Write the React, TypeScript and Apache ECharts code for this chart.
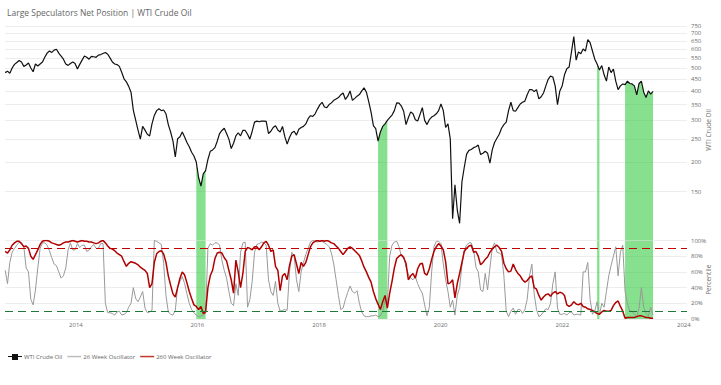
import React, { useEffect, useRef } from 'react';
import * as echarts from 'echarts';

// Weekly grid, one value every two weeks, starting 2012-11-02
const START_DATE = '2012-11-02';
const STEP_DAYS = 14;

const wtiCrudeOil = [
  478, 485, 475, 500, 518, 528, 538, 530, 508, 515,
  525, 500, 482, 520, 510, 520, 530, 555, 578, 590,
  582, 595, 600, 578, 562, 545, 520, 513, 522, 530,
  522, 495, 518, 540, 562, 555, 545, 560, 558, 555,
  567, 570, 576, 582, 572, 552, 530, 520, 517, 508,
  480, 450, 437, 418, 395, 331, 301, 273, 250, 283,
  273, 262, 258, 290, 315, 330, 336, 330, 332, 320,
  288, 268, 245, 210, 251, 256, 268, 255, 242, 232,
  220, 212, 200, 172, 158, 178, 184, 205, 222, 225,
  230, 245, 264, 272, 278, 264, 250, 228, 240, 258,
  266, 258, 272, 272, 262, 250, 270, 295, 298, 296,
  298, 298, 297, 264, 270, 280, 285, 273, 268, 283,
  256, 238, 254, 266, 270, 260, 275, 280, 283, 290,
  305, 314, 312, 320, 335, 349, 358, 342, 340, 350,
  356, 365, 370, 375, 385, 392, 368, 380, 400, 365,
  372, 380, 386, 400, 412, 395, 360, 325, 285, 277,
  245, 268, 283, 290, 300, 308, 316, 330, 356, 355,
  345, 328, 288, 308, 326, 320, 302, 298, 318, 340,
  300, 288, 302, 310, 314, 320, 330, 352, 330, 280,
  290, 250, 115, 160, 125, 110, 165, 190, 216, 224,
  226, 230, 232, 236, 215, 218, 222, 218, 198, 225,
  242, 252, 262, 278, 288, 295, 330, 358, 330, 328,
  340, 352, 358, 362, 385, 405, 405, 398, 405, 370,
  378, 392, 420, 448, 462, 458, 420, 350, 400, 420,
  468, 496, 505, 585, 680, 540, 585, 575, 602, 590,
  660, 640, 590, 545, 520, 490, 512, 468, 440, 505,
  478, 495, 440, 405, 420, 428, 425, 440, 430, 428,
  420, 385, 430, 440, 395, 375, 400, 388, 398,
];

const osc26Week = [
  62, 45, 72, 85, 90, 94, 98, 97, 92, 65,
  60, 25, 18, 37, 65, 90, 97, 97, 94, 87,
  78, 70, 68, 60, 52, 55, 65, 88, 97, 88,
  88, 96, 91, 94, 94, 86, 88, 92, 95, 90,
  90, 96, 96, 20, 8, 8, 7, 5, 9, 10,
  5, 6, 8, 15, 20, 40, 26, 22, 28, 35,
  14, 8, 9, 11, 100, 99, 97, 95, 71, 30,
  9, 6, 5, 11, 40, 48, 54, 45, 32, 20,
  12, 8, 5, 3, 4, 5, 7, 90, 96, 94,
  97, 97, 94, 75, 62, 52, 35, 20, 17, 45,
  30, 85, 97, 98, 15, 25, 48, 85, 95, 96,
  98, 97, 94, 50, 35, 30, 48, 20, 10, 11,
  12, 11, 60, 85, 80, 50, 35, 60, 72, 82,
  90, 98, 100, 99, 98, 99, 99, 97, 95, 92,
  84, 70, 50, 30, 12, 14, 25, 34, 42, 35,
  33, 36, 20, 9, 4, 3, 3, 4, 4, 5,
  3, 4, 10, 25, 20, 80, 94, 98, 99, 92,
  80, 80, 66, 57, 52, 50, 54, 45, 38, 33,
  18, 4, 15, 60, 92, 99, 99, 96, 70, 50,
  35, 15, 24, 5, 30, 40, 68, 88, 94, 97,
  97, 88, 66, 60, 37, 35, 58, 37, 65, 90,
  97, 85, 84, 82, 55, 10, 3, 10, 14, 6,
  12, 12, 7, 12, 25, 55, 70, 32, 12, 3,
  5, 9, 13, 12, 20, 45, 60, 14, 6, 6,
  7, 5, 8, 9, 5, 6, 6, 5, 60, 60,
  72, 25, 6, 10, 22, 5, 20, 15, 35, 55,
  68, 80, 92, 55, 85, 94, 35, 20, 10, 10,
  6, 3, 14, 40, 15, 7, 4, 15, 5,
];

const osc260Week = [
  86, 84, 88, 94, 97, 99, 99, 96, 92, 93,
  90, 80, 76, 82, 88, 95, 99, 100, 100, 99,
  97, 96, 95, 94, 95, 97, 98, 98, 99, 100,
  99, 98, 99, 100, 99, 99, 98, 98, 97, 96,
  97, 99, 100, 97, 93, 90, 89, 87, 84, 82,
  80, 73, 67, 71, 73, 72, 71, 69, 66, 64,
  62, 58, 40, 45, 72, 83, 86, 87, 83, 72,
  55, 43, 32, 28, 40, 52, 60, 56, 46, 35,
  26, 18, 16, 12, 16, 7, 9, 40, 55, 62,
  77, 84, 85, 84, 78, 74, 62, 50, 33, 75,
  60, 40, 58, 86, 91, 90, 88, 92, 92, 88,
  92, 97, 99, 94, 86, 88, 67, 62, 36, 55,
  58, 50, 68, 80, 82, 70, 58, 72, 67, 72,
  82, 92, 97, 99, 100, 99, 100, 99, 100, 99,
  97, 96, 93, 90, 86, 82, 86, 90, 92, 90,
  87, 84, 81, 74, 66, 60, 53, 47, 35, 26,
  19, 12, 22, 30, 14, 33, 48, 65, 77, 80,
  82, 78, 71, 50, 55, 58, 52, 64, 70, 71,
  58, 56, 64, 76, 86, 92, 96, 93, 88, 73,
  45, 46, 50, 27, 45, 58, 72, 86, 90, 93,
  94, 85, 86, 80, 69, 72, 76, 79, 85, 89,
  92, 94, 91, 86, 71, 64, 60, 61, 70, 63,
  58, 55, 50, 47, 49, 53, 55, 40, 38, 30,
  24, 28, 31, 32, 29, 33, 35, 32, 34, 33,
  30, 18, 16, 18, 22, 19, 18, 20, 16, 15,
  13, 12, 11, 9, 7, 6, 9, 11, 10, 10,
  11, 17, 21, 23, 16, 10, 1, 2, 2, 2,
  2, 3, 4, 4, 3, 2, 2, 1, 1,
];

// Periods where the 260 week oscillator sits in the extreme zone
const extremeBands: [string, string][] = [
  ['2015-12-25', '2016-02-19'],
  ['2018-12-21', '2019-02-15'],
  ['2022-07-29', '2022-08-12'],
  ['2023-01-13', '2023-06-30'],
];

const priceTicks = [150, 200, 250, 300, 350, 400, 450, 500, 550, 600, 650, 700, 750];
const yearTicks = [2014, 2016, 2018, 2020, 2022, 2024];
const upperThreshold = 90;
const lowerThreshold = 10;

const X_MIN = '2012-11-01';
const X_MAX = '2024-01-20';

const GREEN = 'rgba(35,199,50,0.55)';
const FONT = 'Open Sans';

const LINE_ICON = 'path://M0,0 M14,7 M0,2.8 H14 V4.3 H0 Z';
const PRICE_ICON = 'path://M0,0 M14,7 M0,3 H4 V4 H0 Z M4,1 H10 V7 H4 Z M10,3 H14 V4 H10 Z';

export default function App() {
  const ref = useRef<HTMLDivElement>(null);

  useEffect(() => {
    if (!ref.current) return;
    const chart = echarts.init(ref.current, undefined, { renderer: 'svg' });

    const t0 = Date.parse(START_DATE);
    const dates = wtiCrudeOil.map((_, i) => t0 + i * STEP_DAYS * 86400000);
    const bands = extremeBands.map(([a, b]) => [Date.parse(a), Date.parse(b)]);
    const inBand = (t: number) => bands.some(([a, b]) => t >= a && t <= b);

    const priceData = dates.map((t, i) => [t, wtiCrudeOil[i]]);
    const bandData = dates.map((t, i) => [t, inBand(t) ? wtiCrudeOil[i] : null]);
    const osc26Data = dates.map((t, i) => [t, osc26Week[i]]);
    const osc260Data = dates.map((t, i) => [t, osc260Week[i]]);

    const axisText = { fontSize: 6, color: '#6b6b6b', fontFamily: FONT };
    const gridLine = { show: true, lineStyle: { color: '#ededed', width: 1 } };

    const option: any = {
      animation: false,
      textStyle: { fontFamily: FONT },
      title: {
        text: 'Large Speculators Net Position | WTI Crude Oil',
        left: 7,
        top: 8,
        padding: 0,
        textStyle: { fontSize: 8.5, fontWeight: 'normal', color: '#666', fontFamily: FONT },
      },
      legend: {
        left: 8,
        top: 353,
        padding: 0,
        itemWidth: 14,
        itemHeight: 7,
        itemGap: 5,
        textStyle: { fontSize: 6, color: '#666', fontFamily: FONT, padding: [0, 0, 0, -3] },
        data: [
          { name: 'WTI Crude Oil', icon: PRICE_ICON },
          { name: '26 Week Oscillator', icon: LINE_ICON },
          { name: '260 Week Oscillator', icon: LINE_ICON },
        ],
      },
      grid: [
        { left: 5, right: 34, top: 19.8, height: 220.2, outerBoundsMode: 'none' },
        { left: 5, right: 34, top: 240.5, height: 78.5, outerBoundsMode: 'none' },
      ],
      xAxis: [
        {
          type: 'value',
          gridIndex: 0,
          min: Date.parse(X_MIN),
          max: Date.parse(X_MAX),
          show: false,
          splitLine: { show: false },
        },
        {
          type: 'value',
          gridIndex: 1,
          min: Date.parse(X_MIN),
          max: Date.parse(X_MAX),
          axisLine: { show: false },
          axisTick: { show: false },
          splitLine: { show: false },
          axisLabel: {
            ...axisText,
            margin: 3,
            customValues: yearTicks.map((y) => Date.UTC(y, 0, 1)),
            formatter: (v: number) => String(new Date(v).getUTCFullYear()),
          },
        },
      ],
      yAxis: [
        {
          type: 'log',
          gridIndex: 0,
          position: 'right',
          min: 93.5,
          max: 800,
          name: 'WTI Crude Oil',
          nameLocation: 'middle',
          nameRotate: 90,
          nameGap: 18,
          nameMoveOverlap: false,
          nameTextStyle: { fontSize: 6.5, color: '#777', fontFamily: FONT },
          axisLine: { show: false },
          axisTick: { show: false, customValues: priceTicks },
          axisLabel: { ...axisText, margin: 4, customValues: priceTicks },
          splitLine: gridLine,
        },
        {
          type: 'value',
          gridIndex: 1,
          position: 'right',
          min: 0,
          max: 100,
          interval: 20,
          name: 'Percentile',
          nameLocation: 'middle',
          nameRotate: 90,
          nameGap: 17.5,
          nameMoveOverlap: false,
          nameTextStyle: { fontSize: 6.5, color: '#777', fontFamily: FONT },
          axisLine: { show: false },
          axisTick: { show: false },
          axisLabel: { ...axisText, margin: 4, formatter: '{value}%' },
          splitLine: gridLine,
        },
      ],
      series: [
        {
          name: 'extreme',
          type: 'line',
          xAxisIndex: 0,
          yAxisIndex: 0,
          data: bandData,
          symbol: 'none',
          connectNulls: false,
          silent: true,
          lineStyle: { width: 0 },
          areaStyle: { color: GREEN, opacity: 1, origin: 'start' },
          z: 1,
        },
        {
          name: 'WTI Crude Oil',
          type: 'line',
          xAxisIndex: 0,
          yAxisIndex: 0,
          data: priceData,
          symbol: 'none',
          lineStyle: { color: '#111', width: 1.2 },
          itemStyle: { color: '#111' },
          z: 3,
        },
        {
          name: '26 Week Oscillator',
          type: 'line',
          xAxisIndex: 1,
          yAxisIndex: 1,
          data: osc26Data,
          symbol: 'none',
          lineStyle: { color: '#999', width: 1 },
          itemStyle: { color: '#bdbdbd' },
          z: 2,
        },
        {
          name: '260 Week Oscillator',
          type: 'line',
          xAxisIndex: 1,
          yAxisIndex: 1,
          data: osc260Data,
          symbol: 'none',
          lineStyle: { color: '#b00000', width: 1.5 },
          itemStyle: { color: '#c0392b' },
          z: 3,
          markLine: {
            silent: true,
            symbol: 'none',
            label: { show: false },
            data: [
              { yAxis: upperThreshold, lineStyle: { color: '#c00000', type: [8, 5], width: 1.2 } },
              { yAxis: lowerThreshold, lineStyle: { color: '#1f7a3a', type: [8, 5], width: 1.2 } },
            ],
          },
        },
        {
          name: 'bands',
          type: 'line',
          xAxisIndex: 1,
          yAxisIndex: 1,
          data: [],
          symbol: 'none',
          silent: true,
          z: 5,
          markArea: {
            silent: true,
            itemStyle: { color: GREEN, opacity: 1 },
            data: bands.map(([a, b]) => [{ xAxis: a }, { xAxis: b }]),
          },
        },
      ],
    };

    chart.setOption(option);
    return () => chart.dispose();
  }, []);

  return (
    <div
      ref={ref}
      style={{ position: 'absolute', left: 0, top: 0, width: 721, height: 385, background: '#fff' }}
    />
  );
}
